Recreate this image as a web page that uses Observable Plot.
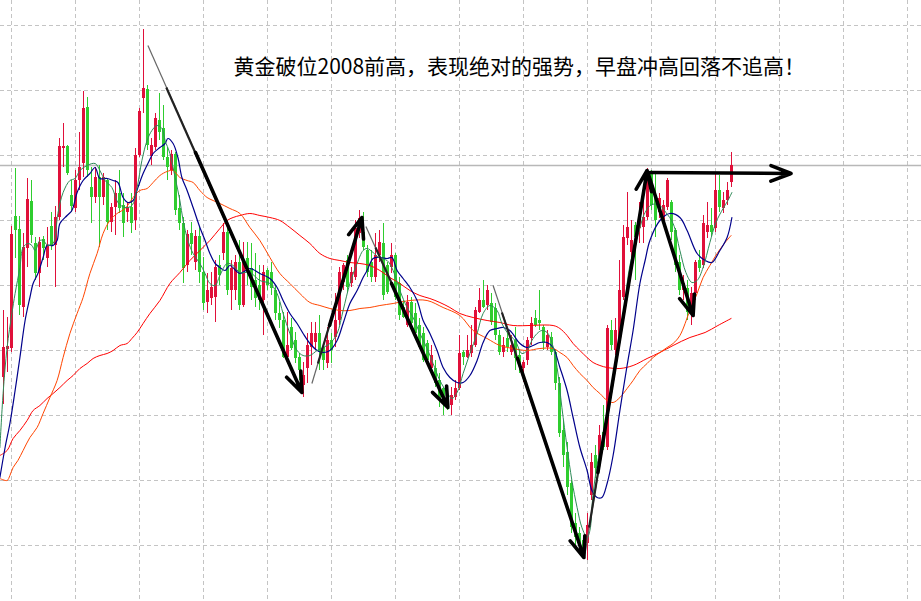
<!DOCTYPE html>
<html>
<head>
<meta charset="utf-8">
<script src="https://cdn.jsdelivr.net/npm/d3@7"></script>
<script src="https://cdn.jsdelivr.net/npm/@observablehq/plot@0.6"></script>
<style>
  html, body { margin: 0; padding: 0; background: #ffffff; }
  #chart { width: 921px; height: 601px; overflow: hidden; }
</style>
</head>
<body>
<div id="chart"></div>
<script>
// ---- data (prices) ----
const title = "黄金破位2008前高，表现绝对的强势，早盘冲高回落不追高！";

const opens = [1987.3,1990.1,1990.2,2003.4,2002.1,1994.3,2000.2,2004.9,2000.7,1997.7,2001.1,1999.2,2002.4,2000.5,2003.3,2010.2,2010.4,2005.5,2004.2,2007.0,2008.7,2014.3,2006.3,2005.3,2007.3,2005.3,2007.0,2002.8,2004.3,2005.7,2004.5,2003.8,2004.3,2003.0,2009.5,2015.2,2016.1,2009.4,2010.3,2013.0,2012.2,2009.3,2008.0,2009.6,2004.2,2002.7,1998.5,2001.7,1998.8,2001.4,1997.8,1994.8,1995.2,1995.3,1998.5,1999.7,2001.8,1996.0,1996.0,1998.8,1994.5,1999.2,1998.2,1997.0,1996.5,1995.0,1998.0,1997.8,1996.0,1993.7,1993.0,1989.3,1992.3,1991.0,1989.3,1986.5,1988.2,1990.3,1990.8,1991.7,1990.3,1988.7,1991.0,1991.3,1993.0,1996.8,1999.0,1996.7,1997.3,2001.7,2001.8,2000.0,1998.8,1997.3,1999.5,2000.7,1998.5,1998.3,1999.5,1996.7,1994.3,1992.5,1994.8,1993.7,1992.5,1991.7,1990.7,1988.2,1988.2,1987.0,1986.2,1985.5,1984.5,1985.3,1986.2,1989.8,1989.3,1989.7,1990.5,1993.8,1995.0,1994.5,1994.7,1994.2,1991.5,1989.8,1991.2,1989.8,1991.0,1989.5,1988.2,1989.0,1991.2,1993.2,1993.0,1992.3,1990.3,1991.3,1989.8,1986.7,1982.0,1979.8,1976.7,1972.7,1971.7,1971.0,1970.7,1975.5,1979.5,1978.7,1981.8,1980.3,1992.0,1990.0,1991.0,1995.3,2001.2,1999.8,2002.5,2002.2,2002.3,2003.3,2007.7,2005.5,2003.8,2003.0,2004.3,2004.8,2002.0,1998.8,1996.0,1996.2,1994.5,1995.7,1999.0,1998.5,2001.8,2002.5,2002.2,2006.0,2004.2,2005.0,2006.8];
const highs = [1994.0,1993.3,2002.4,2008.2,2003.4,2001.7,2007.2,2007.0,2001.3,2001.3,2001.4,2002.3,2003.8,2004.4,2011.2,2012.7,2010.5,2007.0,2008.0,2011.8,2015.9,2015.3,2008.3,2008.3,2008.5,2007.7,2007.2,2004.7,2007.0,2008.0,2005.7,2004.8,2005.7,2010.2,2014.2,2022.1,2016.5,2011.2,2013.7,2015.7,2014.5,2010.3,2010.0,2009.8,2005.5,2003.3,2002.0,2002.8,2002.0,2002.3,1999.3,1997.7,1997.8,1999.0,1999.5,2002.7,2002.5,1999.0,1999.5,2001.0,2000.8,2000.8,2000.7,1999.7,1998.5,1998.5,1998.2,1998.8,1996.5,1994.8,1993.8,1993.8,1993.2,1991.8,1989.7,1988.8,1991.7,1992.8,1992.8,1993.5,1990.7,1992.3,1991.7,1995.7,1998.3,1998.7,1999.5,1998.3,2003.0,2004.0,2003.8,2000.5,2000.0,2001.7,2002.0,2002.7,1998.8,2000.7,1999.7,1997.3,1995.0,1995.5,1995.3,1994.7,1993.2,1992.3,1991.0,1990.5,1989.0,1987.7,1986.3,1986.0,1986.3,1987.0,1991.5,1990.0,1991.5,1992.5,1994.3,1996.2,1997.0,1996.5,1995.7,1994.7,1992.0,1991.3,1991.7,1991.5,1992.3,1990.0,1989.0,1991.3,1993.3,1994.0,1996.0,1992.5,1992.0,1991.8,1990.0,1987.3,1983.0,1980.8,1977.0,1973.7,1972.3,1971.5,1973.7,1979.7,1980.5,1982.5,1984.5,1992.5,1993.0,1993.2,1999.0,2002.5,2005.8,2003.0,2002.8,2004.8,2006.3,2008.2,2008.0,2007.8,2005.7,2005.0,2007.2,2005.0,2002.2,1999.5,1997.5,1997.0,1996.3,1999.0,2000.0,2003.5,2004.8,2004.2,2007.7,2007.5,2005.8,2006.8,2009.8];
const lows = [1984.6,1987.8,1989.8,1999.2,1993.5,1993.3,1998.3,2000.7,1997.0,1996.3,1999.0,1998.3,2000.0,1996.3,2003.0,2008.3,2007.5,2003.8,2003.8,2006.0,2007.3,2007.3,2002.7,2004.7,2000.3,2004.5,2002.0,2001.8,2001.5,2003.7,2001.3,2002.8,2001.7,2002.0,2009.3,2013.7,2010.0,2008.5,2010.0,2011.0,2009.0,2007.0,2007.5,2003.5,2002.0,1996.7,1997.8,1999.5,1998.0,1996.7,1994.0,1993.7,1994.5,1992.8,1996.5,1999.0,1995.5,1994.0,1995.0,1994.0,1994.3,1996.5,1995.0,1994.3,1994.0,1991.5,1996.0,1995.5,1993.0,1992.2,1989.2,1989.0,1990.0,1988.7,1987.0,1985.3,1986.7,1988.5,1990.0,1988.0,1988.0,1988.2,1988.7,1990.3,1992.5,1996.0,1995.8,1996.3,1997.0,2001.2,2000.0,1997.3,1996.8,1996.8,1998.8,1995.0,1995.6,1997.7,1995.0,1993.0,1993.2,1992.3,1992.0,1991.3,1990.2,1988.8,1988.5,1987.5,1986.3,1984.3,1983.5,1984.0,1983.5,1985.0,1986.0,1988.5,1989.2,1989.3,1990.3,1993.7,1994.2,1994.0,1992.5,1991.0,1989.5,1989.3,1989.8,1989.5,1988.0,1987.7,1986.8,1988.5,1990.5,1992.3,1992.0,1990.0,1990.0,1989.5,1986.0,1981.3,1978.3,1975.5,1971.7,1970.0,1970.2,1969.2,1969.0,1975.0,1977.2,1978.0,1980.0,1980.0,1990.0,1989.5,1990.8,1995.0,2000.5,1999.2,1997.0,2000.7,2000.7,2003.0,2004.0,2001.3,2003.2,2002.5,2004.0,2001.0,1997.8,1995.5,1995.0,1993.0,1992.5,1995.0,1997.8,1998.2,2001.2,2001.4,2001.8,2003.8,2003.7,2004.5,2006.3];
const closes = [1990.3,1990.4,2001.6,2002.0,1994.5,2000.3,2005.1,2001.5,1997.7,2000.8,2000.2,2000.5,2000.5,2003.3,2010.4,2010.4,2007.7,2004.4,2007.0,2008.3,2014.2,2008.0,2005.3,2007.3,2005.3,2007.3,2002.8,2004.3,2005.7,2004.2,2002.7,2004.3,2002.7,2009.5,2013.9,2016.2,2010.5,2010.5,2013.2,2011.8,2009.3,2008.3,2009.6,2004.0,2002.7,1998.2,2001.6,2000.6,2001.4,1997.8,1994.7,1996.0,1996.3,1998.3,1997.5,2001.8,1996.0,1998.2,1998.8,1994.5,1999.0,1997.8,1996.3,1995.2,1995.0,1997.8,1996.5,1996.2,1993.7,1993.0,1989.3,1990.5,1990.2,1989.2,1988.0,1987.5,1990.5,1991.7,1991.7,1989.8,1989.0,1991.0,1990.0,1993.0,1997.8,1998.5,1996.3,1997.8,2002.2,2003.2,2000.3,1997.8,1997.3,1999.5,2000.8,1995.5,1995.8,1999.5,1995.3,1993.5,1993.3,1994.8,1992.7,1991.7,1990.3,1989.0,1989.0,1989.5,1986.7,1985.0,1984.8,1984.5,1985.5,1986.2,1989.7,1989.3,1990.0,1990.5,1994.0,1995.0,1994.3,1996.0,1992.8,1991.5,1989.8,1990.5,1990.3,1990.5,1989.2,1988.5,1988.8,1991.0,1992.7,1992.5,1992.7,1990.7,1991.5,1989.8,1986.7,1981.7,1979.5,1976.3,1972.3,1971.3,1970.7,1970.0,1972.5,1978.8,1978.2,1981.5,1980.3,1992.2,1990.5,1992.0,1996.0,2001.3,2002.3,2001.0,2001.3,2003.3,2003.3,2007.8,2004.5,2003.0,2005.2,2004.5,2007.0,2001.8,1998.5,1996.0,1996.7,1993.8,1995.7,1998.8,1998.2,2002.7,2002.5,2001.8,2006.0,2004.3,2005.0,2006.0,2008.5];

// moving averages: [bar index, price]
const maFast = [[-0.9,1980.3],[-0.1,1985.7],[0.9,1990.3],[2.1,1993.7],[2.9,1995.7],[4.1,1998.3],[4.9,2000.3],[6.1,2000.7],[7.1,2000.5],[7.9,2000.0],[9.1,2001.0],[9.9,2001.0],[11.1,2000.5],[12.4,2000.7],[13.6,2003.7],[14.9,2005.8],[16.6,2007.0],[17.9,2007.2],[19.1,2008.0],[20.9,2008.5],[22.9,2008.7],[24.1,2008.0],[25.4,2007.0],[27.1,2006.3],[28.6,2004.8],[30.4,2004.3],[32.1,2004.5],[33.4,2006.3],[34.6,2009.0],[35.9,2011.0],[37.1,2012.0],[38.4,2012.5],[39.6,2012.2],[40.4,2011.0],[41.6,2009.7],[42.9,2007.3],[44.1,2005.0],[44.9,2003.0],[46.1,2001.0],[47.4,1999.7],[49.1,1998.7],[50.4,1997.7],[51.6,1996.7],[52.9,1996.5],[54.1,1997.5],[55.9,1998.7],[57.4,1998.5],[59.1,1997.8],[61.6,1997.8],[64.1,1997.0],[66.6,1996.7],[68.4,1995.7],[69.9,1993.7],[71.6,1991.7],[73.4,1990.0],[74.9,1989.5],[76.6,1989.5],[78.4,1990.0],[79.9,1990.3],[81.6,1990.7],[83.4,1991.7],[84.9,1994.0],[86.6,1996.7],[88.4,1998.7],[89.9,2000.0],[90.9,2000.2],[92.4,1999.8],[94.1,1999.2],[95.9,1999.0],[97.4,1998.0],[99.1,1996.0],[100.9,1994.3],[102.4,1993.3],[104.1,1991.7],[105.9,1990.2],[107.4,1988.7],[109.1,1987.0],[110.9,1985.8],[112.1,1985.2],[113.4,1985.8],[114.9,1987.7],[116.6,1989.7],[118.4,1991.7],[119.9,1993.7],[121.6,1994.5],[123.4,1994.0],[124.6,1992.7],[126.1,1991.7],[127.9,1991.0],[129.6,1989.7],[130.9,1990.0],[132.1,1991.0],[133.4,1991.7],[134.6,1992.0],[135.9,1991.8],[137.1,1990.8],[138.4,1988.3],[139.6,1984.3],[140.9,1980.3],[142.1,1977.0],[143.4,1974.3],[144.6,1972.3],[145.9,1971.3],[146.6,1972.0],[147.4,1975.7],[148.6,1979.0],[149.9,1981.3],[151.1,1983.7],[152.9,1988.0],[154.1,1991.0],[155.4,1995.0],[156.6,1998.5],[158.6,2001.5],[160.4,2003.8],[162.1,2004.6],[164.1,2004.5],[165.6,2003.8],[167.4,2002.7],[169.1,2000.0],[170.6,1997.8],[172.1,1996.8],[173.4,1997.0],[174.9,1998.3],[176.6,2000.8],[178.1,2002.8],[179.9,2004.2],[181.1,2005.0],[182.1,2005.8]];
const maMid = [[-0.9,1977.3],[0.4,1980.3],[1.6,1982.7],[2.9,1986.0],[4.1,1989.3],[5.4,1993.0],[6.6,1995.3],[7.4,1996.7],[8.6,1997.7],[9.9,1999.3],[10.9,2000.5],[12.4,2000.5],[13.4,2001.0],[14.1,2002.7],[15.9,2003.5],[17.1,2004.0],[18.4,2005.8],[19.9,2007.0],[21.6,2007.7],[22.9,2008.3],[24.1,2007.2],[25.9,2007.2],[27.4,2007.0],[28.6,2006.8],[29.9,2005.3],[31.1,2004.8],[32.4,2005.0],[33.6,2006.3],[34.9,2007.7],[36.1,2008.7],[37.4,2009.7],[39.1,2010.3],[40.4,2010.7],[41.1,2011.2],[42.4,2010.7],[43.6,2009.3],[44.6,2007.3],[45.9,2006.0],[47.4,2004.3],[49.1,2002.3],[50.4,2001.0],[51.6,1999.7],[52.9,1998.7],[54.1,1998.3],[55.4,1998.0],[56.6,1998.5],[59.1,1997.7],[61.6,1998.2],[64.1,1997.7],[66.6,1997.2],[68.4,1996.3],[69.9,1995.0],[71.6,1993.7],[73.4,1992.7],[74.9,1991.7],[76.6,1990.7],[78.4,1990.0],[79.9,1989.8],[81.6,1990.0],[83.4,1991.0],[84.9,1992.7],[86.6,1994.7],[88.4,1996.0],[89.9,1997.3],[90.9,1998.0],[92.4,1999.2],[94.1,1999.3],[95.9,1999.2],[97.1,1999.3],[98.4,1998.0],[99.9,1997.2],[101.6,1996.3],[103.4,1995.0],[104.9,1993.0],[106.6,1991.7],[108.4,1990.0],[109.9,1988.3],[111.6,1987.3],[113.4,1986.8],[114.9,1986.8],[116.6,1987.5],[118.4,1989.0],[119.9,1990.8],[121.6,1992.0],[123.4,1992.2],[124.9,1992.3],[126.6,1992.0],[129.1,1990.7],[130.9,1990.3],[132.4,1990.5],[134.1,1990.8],[135.9,1990.8],[137.4,1990.3],[139.1,1988.3],[140.9,1986.0],[142.4,1983.3],[144.1,1980.3],[145.9,1978.0],[147.1,1976.0],[148.4,1975.3],[149.6,1975.3],[150.9,1976.7],[152.4,1979.5],[154.1,1984.0],[155.9,1988.5],[157.4,1992.0],[159.1,1996.7],[160.4,1999.0],[161.6,2001.0],[164.1,2003.0],[166.6,2003.7],[169.1,2003.3],[170.9,2002.0],[173.4,1999.7],[175.4,1999.0],[177.1,1998.8],[179.1,2000.0],[180.9,2001.3],[182.1,2003.3]];
const maSlow = [[-0.9,1977.2],[0.9,1977.0],[1.6,1977.5],[2.4,1978.3],[3.6,1979.0],[4.9,1980.0],[6.6,1981.3],[8.4,1982.3],[9.9,1983.7],[11.6,1985.3],[13.4,1987.0],[14.9,1989.3],[16.6,1991.7],[18.4,1993.7],[19.9,1995.3],[21.6,1997.7],[23.4,1999.7],[24.9,2001.7],[26.6,2003.0],[28.4,2003.7],[30.4,2004.2],[32.4,2005.3],[34.1,2006.0],[35.9,2006.2],[37.4,2006.8],[39.1,2007.5],[40.9,2007.9],[42.4,2008.0],[44.1,2007.3],[45.9,2007.0],[47.4,2006.8],[49.1,2006.0],[50.9,2005.3],[52.4,2005.0],[54.1,2004.7],[56.6,2004.2],[59.1,2003.7],[61.6,2002.3],[64.1,2001.0],[66.6,1999.3],[69.1,1997.7],[71.6,1996.7],[74.1,1995.7],[76.6,1994.8],[79.1,1994.5],[81.6,1994.2],[84.1,1994.0],[86.6,1994.0],[89.1,1994.2],[91.6,1994.3],[94.1,1994.5],[97.4,1994.7],[101.6,1995.0],[105.9,1995.0],[109.9,1994.3],[114.1,1993.5],[117.4,1992.0],[120.9,1991.2],[124.1,1990.5],[127.4,1990.2],[130.9,1990.0],[134.1,1990.2],[137.4,1990.2],[139.1,1989.8],[140.9,1989.3],[142.4,1988.5],[144.1,1987.7],[145.9,1987.0],[147.4,1986.3],[149.1,1985.7],[150.9,1985.0],[152.4,1984.8],[154.1,1985.3],[155.9,1986.2],[157.4,1987.0],[159.1,1988.0],[160.9,1988.7],[162.4,1989.3],[164.1,1989.8],[165.9,1990.3],[167.4,1990.7],[169.1,1991.5],[171.6,1994.0],[173.4,1995.7],[174.9,1997.3],[176.6,1998.5],[178.4,1999.7],[180.4,2000.8],[181.9,2001.5]];
const maLong = [[-0.9,1979.5],[0.9,1980.0],[2.4,1981.2],[4.1,1982.0],[5.9,1983.0],[7.4,1984.0],[9.1,1984.5],[10.9,1985.2],[12.4,1985.7],[14.1,1986.3],[15.9,1987.0],[17.4,1987.5],[19.1,1988.2],[20.9,1988.7],[22.4,1989.2],[24.1,1989.5],[25.9,1989.7],[27.4,1990.0],[29.1,1990.5],[30.9,1990.7],[32.1,1991.2],[33.4,1991.8],[34.9,1992.7],[36.6,1993.7],[39.1,1995.0],[41.6,1996.7],[44.1,1997.8],[46.6,1999.0],[49.1,2000.0],[51.6,2001.0],[54.1,2002.2],[55.9,2003.0],[57.4,2003.3],[59.1,2003.5],[61.6,2003.7],[64.1,2003.5],[66.6,2003.3],[69.1,2003.0],[71.6,2002.3],[74.1,2001.5],[76.6,2000.7],[79.1,1999.7],[81.6,1999.2],[84.1,1999.0],[86.6,1998.8],[89.1,1998.7],[91.6,1998.5],[94.1,1998.0],[96.6,1997.3],[99.1,1996.7],[101.6,1996.0],[104.1,1995.5],[106.6,1995.2],[109.1,1994.8],[111.6,1994.3],[114.1,1993.7],[117.4,1993.3],[120.9,1993.0],[124.1,1992.8],[127.4,1992.5],[137.4,1992.5],[139.1,1992.2],[140.9,1991.5],[142.4,1990.7],[144.1,1990.0],[145.9,1989.3],[147.4,1988.8],[149.1,1988.5],[150.9,1988.3],[154.1,1988.2],[157.4,1988.5],[160.9,1989.2],[164.1,1989.8],[167.4,1990.5],[171.6,1991.3],[175.4,1991.8],[178.6,1992.5],[181.9,1993.2]];

// hand-drawn trend arrows (bar index, price)
const trendThin = [
  {x1: 36.1, y1: 2020.5, x2: 74.6, y2: 1985.8},
  {x1: 77.1, y1: 1986.7, x2: 89.6, y2: 2003.3},
  {x1: 90.6, y1: 2002.4, x2: 111.1, y2: 1984.3},
  {x1: 122.4, y1: 1996.5, x2: 145.1, y2: 1969.3},
  {x1: 145.4, y1: 1969.7, x2: 160.9, y2: 2008.0}
];
const trendMedium = [
  {x1: 40.7, y1: 2016.3, x2: 74.6, y2: 1985.8},
  {x1: 78.6, y1: 1988.7, x2: 89.6, y2: 2003.3},
  {x1: 93.0, y1: 2000.3, x2: 111.1, y2: 1984.3},
  {x1: 124.6, y1: 1993.8, x2: 145.1, y2: 1969.3},
  {x1: 146.4, y1: 1972.3, x2: 160.9, y2: 2008.0}
];
const trendThick = [
  {x1: 48.0, y1: 2009.8, x2: 74.6, y2: 1985.8},
  {x1: 81.5, y1: 1992.5, x2: 89.6, y2: 2003.3},
  {x1: 97.0, y1: 1996.7, x2: 111.1, y2: 1984.3},
  {x1: 128.5, y1: 1989.2, x2: 145.1, y2: 1969.3},
  {x1: 148.6, y1: 1977.8, x2: 160.9, y2: 2008.0},
  {x1: 161.1, y1: 2007.8, x2: 172.4, y2: 1993.5},
  {x1: 161.6, y1: 2007.8, x2: 196.9, y2: 2007.7}
];

const gridBars = [2,18,34,50,66,82,98,114,130,146,162,178,194,210,226];
const gridPrices = [2022.5,2016,2009.5,2003,1996.5,1990,1983.5,1977,1970.5];
const priorHigh = [2008.5];

// ---- build ----
const candles = opens.map((o, i) => ({i, o, h: highs[i], l: lows[i], c: closes[i]}));
const up = d => d.c >= d.o;
const dn = d => d.c < d.o;
const RED = "#e0103a", GREEN = "#2fcd2f";

const chart = Plot.plot({
  width: 921,
  height: 601,
  margin: 0,
  x: {domain: [-0.75, 229.5], axis: null},
  y: {domain: [1964.9, 2025], axis: null},
  style: {background: "#ffffff", fontFamily: "'Noto Sans CJK SC', 'Noto Sans', sans-serif"},
  marks: [
    Plot.ruleX(gridBars, {stroke: "#c4c4c4", strokeWidth: 1, strokeDasharray: "4,3"}),
    Plot.ruleY(gridPrices, {stroke: "#c4c4c4", strokeWidth: 1, strokeDasharray: "4,3"}),
    Plot.ruleY(priorHigh, {stroke: "#b8b8b8", strokeWidth: 1.3}),
    // wicks
    Plot.ruleX(candles, {filter: up, x: "i", y1: "l", y2: "h", stroke: RED, strokeWidth: 1}),
    Plot.ruleX(candles, {filter: dn, x: "i", y1: "l", y2: "h", stroke: GREEN, strokeWidth: 1}),
    // bodies
    Plot.ruleX(candles, {filter: up, x: "i", y1: "o", y2: "c", stroke: RED, strokeWidth: 3}),
    Plot.ruleX(candles, {filter: dn, x: "i", y1: "o", y2: "c", stroke: GREEN, strokeWidth: 3}),
    // moving averages
    Plot.line(maLong, {x: d => d[0], y: d => d[1], stroke: "#ff0000", strokeWidth: 1, curve: "catmull-rom"}),
    Plot.line(maSlow, {x: d => d[0], y: d => d[1], stroke: "#ff4500", strokeWidth: 1, curve: "catmull-rom"}),
    Plot.line(maMid, {x: d => d[0], y: d => d[1], stroke: "#00008b", strokeWidth: 1.2, curve: "catmull-rom"}),
    Plot.line(maFast, {x: d => d[0], y: d => d[1], stroke: "#2e8b57", strokeWidth: 1, curve: "catmull-rom"}),
    // arrows (tapering hand-drawn look)
    Plot.link(trendThin, {x1: "x1", y1: "y1", x2: "x2", y2: "y2", stroke: "#666666", strokeWidth: 1.2}),
    Plot.link(trendMedium, {x1: "x1", y1: "y1", x2: "x2", y2: "y2", stroke: "#222222", strokeWidth: 2.2}),
    Plot.arrow(trendThick, {x1: "x1", y1: "y1", x2: "x2", y2: "y2", stroke: "#000000", strokeWidth: 3.6, headLength: 9, headAngle: 42, insetStart: 0, insetEnd: 0}),
    // title
    Plot.text([title], {frameAnchor: "top-left", dx: 233, dy: 67, textAnchor: "start", lineAnchor: "middle", fontSize: 21, fill: "#000000"})
  ]
});
document.getElementById("chart").appendChild(chart);
</script>
</body>
</html>
